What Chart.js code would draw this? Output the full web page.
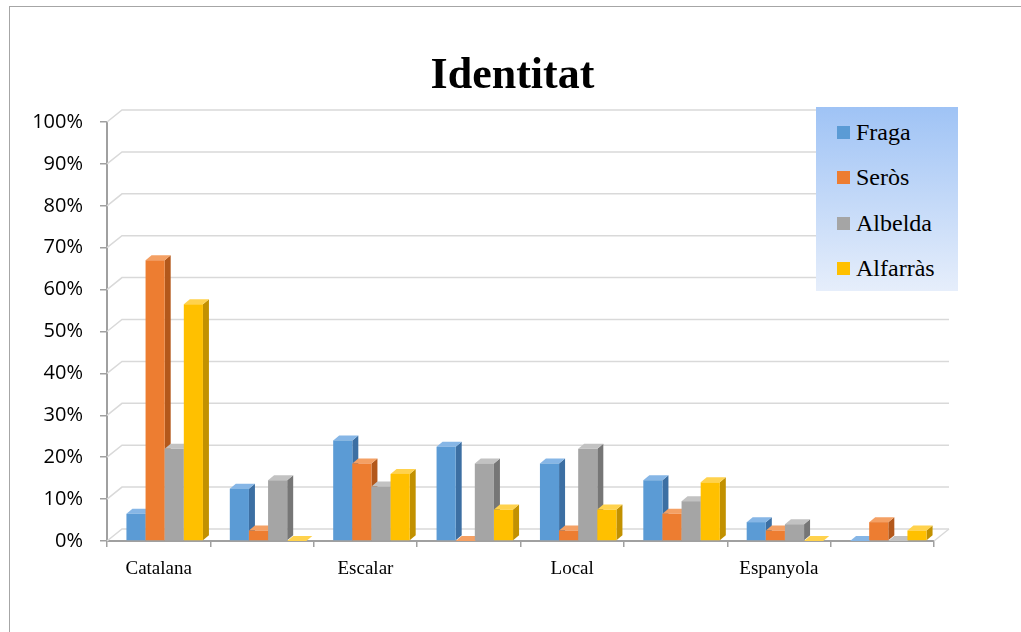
<!DOCTYPE html>
<html>
<head>
<meta charset="utf-8">
<script src="https://cdn.jsdelivr.net/npm/chart.js@4"></script>
<style>
  body { margin: 0; background: #fff; }
  #wrap { position: relative; width: 1021px; height: 632px; overflow: hidden; }
  #frame { position: absolute; left: 9px; top: 6px; width: 1100px; height: 700px;
           border-left: 1px solid #a6a6a6; border-top: 1px solid #a6a6a6; }
  #title { position: absolute; left: 2px; top: 48px; width: 1021px; height: 53px; line-height: 53px;
           text-align: center; font: bold 44px "Liberation Serif", serif; color: #000; }
  #legend { position: absolute; left: 816px; top: 107px; width: 142px; height: 184px;
            background: linear-gradient(#9fc3f5, #e6eefb); padding-top: 2.5px; box-sizing: border-box; }
  .item { height: 45.5px; display: flex; align-items: center; font: 24px "Liberation Serif", serif; color: #000; }
  .item span.box { width: 13px; height: 13px; margin-left: 21px; margin-right: 6px; }
</style>
</head>
<body>
<div id="wrap">
  <div id="frame"></div>
  <canvas id="chart" width="1021" height="632"></canvas>
  <div id="title">Identitat</div>
  <div id="legend"></div>
</div>
<script>
// categories (only every other label is printed in the original)
const categories = ["Catalana", "", "Escalar", "", "Local", "", "Espanyola", ""];
const seriesNames = ["Fraga", "Seròs", "Albelda", "Alfarràs"];

// values in %
const fraga    = [6.5, 12.5, 24, 22.5, 18.5, 14.5, 4.5, 0];
const seros    = [67, 2.5, 18.5, 0, 2.5, 6.5, 2.5, 4.5];
const albelda  = [22, 14.5, 13, 18.5, 22, 9.5, 4, 0];
const alfarras = [56.5, 0, 16, 7.5, 7.5, 14, 0, 2.5];

const yTicks = [0, 10, 20, 30, 40, 50, 60, 70, 80, 90, 100];

// front / side / top colours per series
const colors = [
  ["#5b9bd5", "#3c6fa3", "#86b6e6"],
  ["#ed7d31", "#b3581b", "#f4a064"],
  ["#a5a5a5", "#767676", "#c2c2c2"],
  ["#ffc000", "#c29100", "#ffd24d"]
];

// legend
const legend = document.getElementById("legend");
seriesNames.forEach((name, i) => {
  const div = document.createElement("div");
  div.className = "item";
  div.innerHTML = `<span class="box" style="background:${colors[i][0]}"></span>${name}`;
  legend.appendChild(div);
});

// back wall grid with a bit of depth
const backGrid = {
  id: "backGrid",
  beforeDatasetsDraw(chart) {
    const { ctx, chartArea, scales } = chart;
    const dx = 15, dy = -12;
    ctx.save();
    ctx.strokeStyle = "#d9d9d9";
    ctx.lineWidth = 1.5;
    yTicks.forEach(v => {
      const py = scales.y.getPixelForValue(v);
      ctx.beginPath();
      ctx.moveTo(chartArea.left, py);
      ctx.lineTo(chartArea.left + dx, py + dy);
      ctx.lineTo(chartArea.right + dx, py + dy);
      ctx.stroke();
    });
    ctx.beginPath();
    ctx.moveTo(chartArea.right, chartArea.bottom);
    ctx.lineTo(chartArea.right + dx, chartArea.bottom + dy);
    ctx.stroke();
    ctx.restore();
  }
};

// draw the columns as 3d blocks
const bars3d = {
  id: "bars3d",
  afterDatasetsDraw(chart) {
    const ctx = chart.ctx;
    const d = 6, e = 5, shift = 6;
    const metas = chart.data.datasets.map((ds, i) => chart.getDatasetMeta(i));
    ctx.save();
    categories.forEach((c, j) => {
      metas.forEach((meta, i) => {
        const bar = meta.data[j];
        const l = bar.x - bar.width / 2 + shift, r = bar.x + bar.width / 2 + shift;
        const top = Math.min(bar.y, bar.base), base = bar.base;
        // side
        ctx.fillStyle = colors[i][1];
        ctx.beginPath();
        ctx.moveTo(r, top); ctx.lineTo(r + d, top - e);
        ctx.lineTo(r + d, base - e); ctx.lineTo(r, base);
        ctx.closePath(); ctx.fill();
        // top
        ctx.fillStyle = colors[i][2];
        ctx.beginPath();
        ctx.moveTo(l, top); ctx.lineTo(l + d, top - e);
        ctx.lineTo(r + d, top - e); ctx.lineTo(r, top);
        ctx.closePath(); ctx.fill();
        // front
        ctx.fillStyle = colors[i][0];
        ctx.fillRect(l, top, r - l, base - top);
      });
    });
    ctx.restore();
  }
};

const chart = new Chart(document.getElementById("chart"), {
  type: "bar",
  data: {
    labels: categories,
    datasets: [fraga, seros, albelda, alfarras].map((vals, i) => ({
      label: seriesNames[i],
      data: vals,
      backgroundColor: "rgba(0,0,0,0)",
      categoryPercentage: 0.74,
      barPercentage: 1.0
    }))
  },
  options: {
    responsive: false,
    animation: false,
    layout: { padding: { left: 0, right: 87, top: 122, bottom: 51 } },
    plugins: {
      legend: { display: false },
      tooltip: { enabled: false },
      title: { display: false }
    },
    scales: {
      x: {
        afterFit: s => { s.height = 40; },
        grid: { display: true, drawOnChartArea: false, drawTicks: true, tickLength: 6, color: "#a0a0a0", lineWidth: 1.5 },
        border: { display: true, color: "#a0a0a0", width: 2 },
        ticks: {
          padding: 11,
          color: "#000",
          maxRotation: 0,
          autoSkip: false,
          font: { family: "Liberation Serif", size: 19 }
        }
      },
      y: {
        min: 0,
        max: 100,
        afterFit: s => { s.width = 107; },
        afterBuildTicks: s => { s.ticks = yTicks.map(v => ({ value: v })); },
        grid: { display: true, drawOnChartArea: false, drawTicks: true, tickLength: 7, color: "#a0a0a0", lineWidth: 1.5 },
        border: { display: true, color: "#a0a0a0", width: 2 },
        ticks: {
          padding: 17,
          color: "#000",
          font: { family: "Open Sans", size: 20 },
          callback: v => v + "%"
        }
      }
    }
  },
  plugins: [backGrid, bars3d]
});
</script>
</body>
</html>
